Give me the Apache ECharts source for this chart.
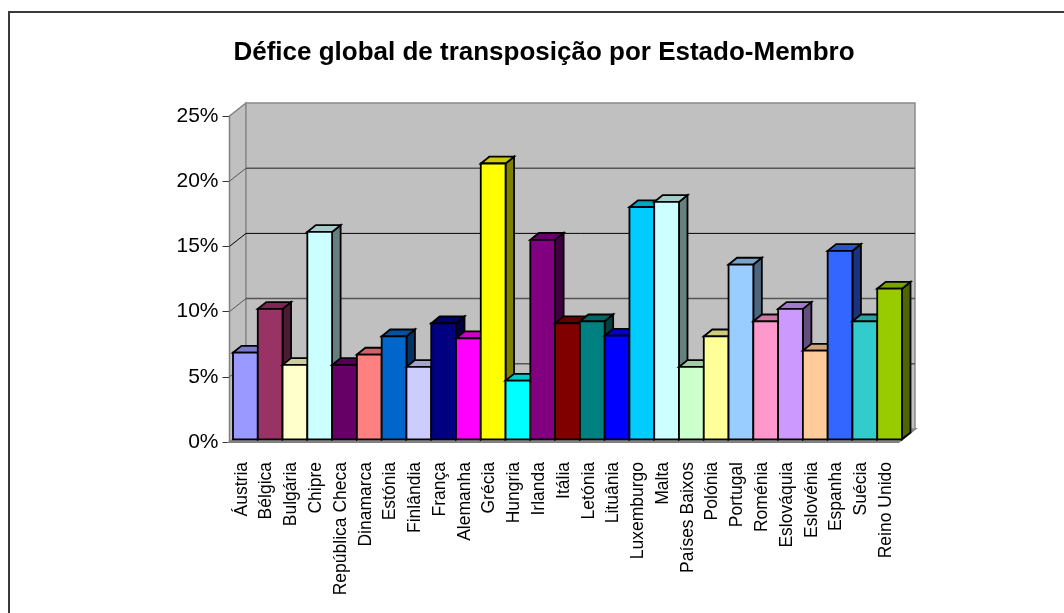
<!DOCTYPE html>
<html>
<head>
<meta charset="utf-8">
<style>
  html, body { margin: 0; padding: 0; background: #fff; }
  #chart { width: 1064px; height: 613px; }
</style>
<script src="https://cdn.jsdelivr.net/npm/echarts@6/dist/echarts.min.js"></script>
</head>
<body>
<div id="chart"></div>
<script>
var titleText = "Défice global de transposição por Estado-Membro";
var countries = ["Áustria", "Bélgica", "Bulgária", "Chipre", "República Checa", "Dinamarca", "Estónia", "Finlândia", "França", "Alemanha", "Grécia", "Hungria", "Irlanda", "Itália", "Letónia", "Lituânia", "Luxemburgo", "Malta", "Países Baixos", "Polónia", "Portugal", "Roménia", "Eslováquia", "Eslovénia", "Espanha", "Suécia", "Reino Unido"];
var deficit = [6.65, 10.0, 5.7, 15.9, 5.7, 6.5, 7.9, 5.55, 8.9, 7.75, 21.15, 4.5, 15.3, 8.9, 9.05, 7.95, 17.8, 18.2, 5.55, 7.9, 13.4, 9.05, 10.0, 6.8, 14.45, 9.05, 11.55];
var barColors = ["#9999FF", "#993366", "#FFFFCC", "#CCFFFF", "#660066", "#FF8080", "#0066CC", "#CCCCFF", "#000080", "#FF00FF", "#FFFF00", "#00FFFF", "#800080", "#800000", "#008080", "#0000FF", "#00CCFF", "#CCFFFF", "#CCFFCC", "#FFFF99", "#99CCFF", "#FF99CC", "#CC99FF", "#FFCC99", "#3366FF", "#33CCCC", "#99CC00"];
var yTicks = [0, 5, 10, 15, 20, 25];

// depth of the fake 3d box and of the bars, in px
var wallDx = 16.5, wallDy = -13;
var barDx = 8.5, barDy = -6.8;
var barOffX = 3.5, barOffY = -2.7;

function shade(hex, k) {
  var n = parseInt(hex.slice(1), 16);
  var r = Math.round(((n >> 16) & 255) * k);
  var g = Math.round(((n >> 8) & 255) * k);
  var b = Math.round((n & 255) * k);
  return "rgb(" + r + "," + g + "," + b + ")";
}

function poly(points, fill, stroke, width) {
  return {
    type: "polygon",
    shape: { points: points },
    style: { fill: fill, stroke: stroke, lineWidth: width, lineJoin: "miter" },
  };
}

function line(x1, y1, x2, y2, color, width) {
  return {
    type: "line",
    shape: { x1: x1, y1: y1, x2: x2, y2: y2 },
    style: { stroke: color, lineWidth: width },
  };
}

function renderWalls(params, api) {
  var band = api.size([1, 0])[0];
  var left = api.coord([0, 0])[0] - band / 2;
  var right = api.coord([countries.length - 1, 0])[0] + band / 2;
  var bottom = api.coord([0, 0])[1];
  var top = api.coord([0, 25])[1];
  var children = [
    // floor
    poly([[left, bottom], [right, bottom], [right + wallDx, bottom + wallDy], [left + wallDx, bottom + wallDy]], "#8c8c8c", "#808080", 2),
    // side wall
    poly([[left, bottom], [left, top], [left + wallDx, top + wallDy], [left + wallDx, bottom + wallDy]], "#c0c0c0", "#808080", 1.5),
    // back wall
    poly([[left + wallDx, bottom + wallDy], [left + wallDx, top + wallDy], [right + wallDx, top + wallDy], [right + wallDx, bottom + wallDy]], "#c0c0c0", "#8c8c8c", 1.5),
  ];
  yTicks.forEach(function (t) {
    if (t === 0 || t === 25) return;
    var y = api.coord([0, t])[1];
    // 15% comes out thin and black in the reference, the others thicker grey
    var color = t === 15 ? "#000" : "#555";
    var w = t === 15 ? 1 : 1.5;
    children.push(line(left, y, left + wallDx, y + wallDy, color, 1));
    children.push(line(left + wallDx, y + wallDy, right + wallDx, y + wallDy, color, w));
  });
  return { type: "group", children: children };
}

function renderBar(params, api) {
  var i = api.value(0);
  var band = api.size([1, 0])[0];
  var c = api.coord([i, api.value(1)]);
  var base = api.coord([i, 0]);
  var x1 = c[0] - band / 2 + barOffX;
  var x2 = x1 + band;
  var yt = c[1] + barOffY;
  var yb = base[1] + barOffY;
  var color = barColors[i];
  return {
    type: "group",
    children: [
      poly([[x2, yb], [x2, yt], [x2 + barDx, yt + barDy], [x2 + barDx, yb + barDy]], shade(color, 0.5), "#000", 1.8),
      poly([[x1, yt], [x2, yt], [x2 + barDx, yt + barDy], [x1 + barDx, yt + barDy]], shade(color, 0.8), "#000", 1.8),
      poly([[x1, yb], [x1, yt], [x2, yt], [x2, yb]], color, "#000", 1.8),
    ],
  };
}

var chart = echarts.init(document.getElementById("chart"), null, { renderer: "canvas" });
chart.setOption({
  animation: false,
  backgroundColor: "#fff",
  textStyle: { fontFamily: "Liberation Sans" },
  title: {
    text: titleText,
    left: 539,
    top: 35,
    textAlign: "center",
    textStyle: { fontFamily: "Liberation Sans", fontSize: 26, fontWeight: "bold", color: "#000" },
  },
  graphic: [
    // only the top and left edges of the frame are in the picture
    { type: "line", shape: { x1: 8, y1: 12, x2: 1064, y2: 12 }, style: { stroke: "#3a3a3a", lineWidth: 2 }, silent: true },
    { type: "line", shape: { x1: 9, y1: 11, x2: 9, y2: 613 }, style: { stroke: "#3a3a3a", lineWidth: 2 }, silent: true },
  ],
  grid: { left: 229.5, top: 116, width: 669, height: 326 },
  xAxis: {
    type: "category",
    data: countries,
    axisLine: { show: false },
    axisTick: { show: false },
    axisLabel: { rotate: 90, interval: 0, fontSize: 17.5, color: "#000", margin: 20, fontFamily: "Liberation Sans" },
  },
  yAxis: {
    type: "value",
    min: 0,
    max: 25,
    interval: 5,
    axisLine: { show: true, lineStyle: { color: "#444", width: 2 } },
    axisTick: { show: true, length: 7, lineStyle: { color: "#333", width: 1 } },
    axisLabel: { formatter: "{value}%", fontSize: 21, color: "#000", margin: 11, padding: [5, 0, 0, 0], fontFamily: "Liberation Sans" },
    splitLine: { show: false },
  },
  series: [
    { type: "custom", name: "walls", renderItem: renderWalls, data: [[0, 0]], clip: false, silent: true, z: 1 },
    {
      type: "custom",
      name: "Défice",
      renderItem: renderBar,
      encode: { x: 0, y: 1 },
      data: deficit.map(function (v, i) { return [i, v]; }),
      clip: false,
      z: 2,
    },
  ],
});
</script>
</body>
</html>
